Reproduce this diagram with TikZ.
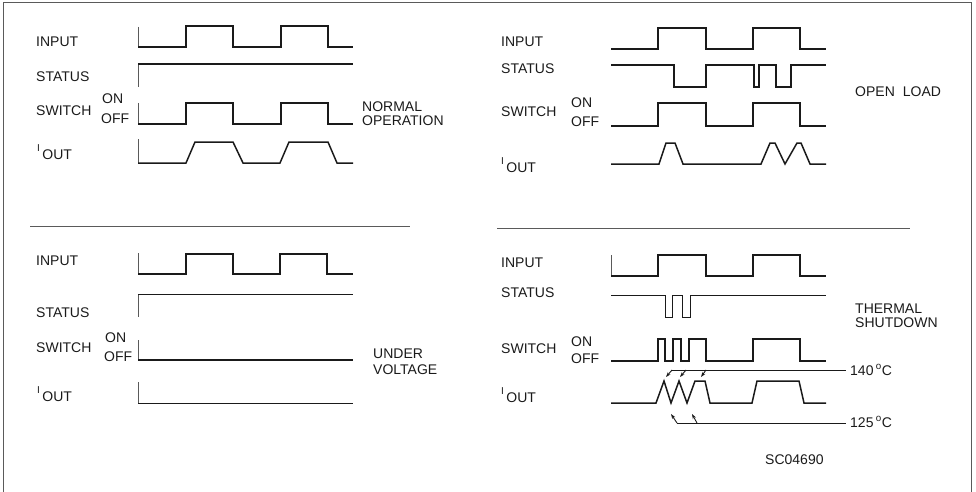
\documentclass[tikz,border=0pt]{standalone}
\usepackage{fontspec}
\setmainfont{Liberation Sans}
\usetikzlibrary{arrows.meta}
\definecolor{inkblack}{HTML}{1A1A1A}
\definecolor{inkgray}{HTML}{5A5A5A}
\tikzset{
    sig/.style={anchor=base west, inner sep=0pt, font=\fontsize{14}{15}\selectfont, text=inkblack},
    wave/.style={draw=inkblack, line width=1.5pt, line join=miter},
    thinwave/.style={draw=inkblack, line width=0.9pt},
    edgetick/.style={draw=inkgray, line width=0.8pt},
    divider/.style={draw=inkgray, line width=1pt},
    frame/.style={draw=inkgray, line width=0.9pt},
    tempflow/.style={-{Stealth[length=5pt,width=3.5pt]}, draw=inkblack, line width=0.9pt}
}
\newcommand{\ioutlabel}{\raisebox{8pt}{\fontsize{10}{10}\selectfont I}\hspace{2.5pt}OUT}

\begin{document}
\begin{tikzpicture}[x=1pt, y=-1pt]
    \useasboundingbox (0,0) rectangle (976,492);
    \draw[frame] (3,492) -- (3,2) -- (971,2) -- (971,492);
    \draw[divider] (30,226) -- (410,226);
    \draw[divider] (497,228) -- (910,228);

    % normal operation
    \node[sig] (inNorm) at (36,47) {INPUT};
    \node[sig] (stNorm) at (36,82) {STATUS};
    \node[sig] (swNorm) at (36,115) {SWITCH};
    \node[sig] (onNorm) at (102,104) {ON};
    \node[sig] (offNorm) at (101,124) {OFF};
    \node[sig] (ioNorm) at (37,159) {\ioutlabel};
    \node[sig] (titleNorm) at (362,112) {NORMAL};
    \node[sig] (titleNormB) at (362,125) {OPERATION};
    \draw[edgetick] (138,27) -- (138,47);
    \draw[wave] (138,47) -- (186,47) -- (186,26) -- (233,26) -- (233,47) -- (281,47) -- (281,26) -- (328,26) -- (328,47) -- (353,47);
    \draw[edgetick] (138,64) -- (138,87);
    \draw[wave] (138,64) -- (353,64);
    \draw[edgetick] (138,103) -- (138,124);
    \draw[wave] (138,124) -- (186,124) -- (186,103) -- (233,103) -- (233,124) -- (281,124) -- (281,103) -- (328,103) -- (328,124) -- (353,124);
    \draw[edgetick] (138,139) -- (138,163);
    \draw[wave] (138,163) -- (186,163) -- (195,142) -- (233,142) -- (243,163) -- (280,163) -- (289,142) -- (328,142) -- (337,163) -- (353,163);

    % open load
    \node[sig] (inOpen) at (501,47) {INPUT};
    \node[sig] (stOpen) at (501,74) {STATUS};
    \node[sig] (swOpen) at (501,117) {SWITCH};
    \node[sig] (onOpen) at (571,107) {ON};
    \node[sig] (offOpen) at (571,127) {OFF};
    \node[sig] (ioOpen) at (501,172) {\ioutlabel};
    \node[sig] (titleOpen) at (855,97) {OPEN\hspace{8pt}LOAD};
    \draw[wave] (611,49) -- (658,49) -- (658,28) -- (706,28) -- (706,49) -- (753,49) -- (753,28) -- (800,28) -- (800,49) -- (826,49);
    \draw[wave] (611,65) -- (674,65) -- (674,87) -- (706,87) -- (706,65) -- (754,65) -- (754,87) -- (759,87) -- (759,65) -- (776,65) -- (776,87) -- (791,87) -- (791,65) -- (826,65);
    \draw[wave] (611,126) -- (658,126) -- (658,103) -- (706,103) -- (706,126) -- (753,126) -- (753,103) -- (800,103) -- (800,126) -- (826,126);
    \draw[wave] (611,164) -- (659,164) -- (666,143) -- (675,143) -- (683,164) -- (761,164) -- (770,143) -- (775,143) -- (785,164) -- (797,143) -- (801,143) -- (810,164) -- (826,164);

    % under voltage
    \node[sig] (inUnder) at (36,265) {INPUT};
    \node[sig] (stUnder) at (36,317) {STATUS};
    \node[sig] (swUnder) at (36,352) {SWITCH};
    \node[sig] (onUnder) at (105,342) {ON};
    \node[sig] (offUnder) at (104,361) {OFF};
    \node[sig] (ioUnder) at (37,401) {\ioutlabel};
    \node[sig] (titleUnder) at (373,358) {UNDER};
    \node[sig] (titleUnderB) at (373,374) {VOLTAGE};
    \draw[edgetick] (138,253) -- (138,274);
    \draw[wave] (138,274) -- (186,274) -- (186,254) -- (233,254) -- (233,274) -- (280,274) -- (280,254) -- (327,254) -- (327,274) -- (353,274);
    \draw[edgetick] (138,294) -- (138,317);
    \draw[thinwave] (138,294) -- (353,294);
    \draw[edgetick] (138,340) -- (138,360);
    \draw[wave] (138,360) -- (353,360);
    \draw[edgetick] (138,382) -- (138,403);
    \draw[thinwave] (138,403) -- (353,403);

    % thermal shutdown
    \node[sig] (inTherm) at (501,267) {INPUT};
    \node[sig] (stTherm) at (501,297) {STATUS};
    \node[sig] (swTherm) at (501,353) {SWITCH};
    \node[sig] (onTherm) at (571,346) {ON};
    \node[sig] (offTherm) at (571,363) {OFF};
    \node[sig] (ioTherm) at (501,402) {\ioutlabel};
    \node[sig] (titleTherm) at (855,313) {THERMAL};
    \node[sig] (titleThermB) at (855,327) {SHUTDOWN};
    \node[sig] (hotLabel) at (850,375) {140\,\textsuperscript{o}C};
    \node[sig] (coolLabel) at (850,427) {125\,\textsuperscript{o}C};
    \node[sig] (code) at (765,464) {SC04690};
    \draw[edgetick] (611,255) -- (611,276);
    \draw[wave] (611,276) -- (658,276) -- (658,255) -- (706,255) -- (706,276) -- (753,276) -- (753,255) -- (800,255) -- (800,276) -- (826,276);
    \draw[thinwave] (611,295) -- (665,295) -- (665,317) -- (672,317) -- (672,295) -- (682,295) -- (682,317) -- (690,317) -- (690,295) -- (826,295);
    \draw[wave] (611,361) -- (658,361) -- (658,339) -- (665,339) -- (665,361) -- (673,361) -- (673,339) -- (681,339) -- (681,361) -- (689,361) -- (689,339) -- (706,339) -- (706,361) -- (753,361) -- (753,339) -- (800,339) -- (800,361) -- (826,361);
    \draw[wave] (611,403) -- (656,403) -- (664,381) -- (671,403) -- (679,381) -- (687,403) -- (695,381) -- (705,381) -- (710,403) -- (752,403) -- (757,381) -- (799,381) -- (804,403) -- (826,403);

    \coordinate (hotA) at (672,370);
    \coordinate (hotB) at (686,370);
    \coordinate (hotC) at (706,370);
    \coordinate (hotEnd) at (846,370);
    \coordinate (coolA) at (677,423);
    \coordinate (coolB) at (697,423);
    \coordinate (coolEnd) at (846,423);
    \draw[thinwave] (hotA) -- (hotEnd);
    \draw[thinwave] (coolA) -- (coolEnd);
    \draw[tempflow] (hotA) -- ++(-6,7);
    \draw[tempflow] (hotB) -- ++(-6,7);
    \draw[tempflow] (hotC) -- ++(-5,7);
    \draw[tempflow] (coolA) -- ++(-6,-9);
    \draw[tempflow] (coolB) -- ++(-5,-9);
\end{tikzpicture}
\end{document}
